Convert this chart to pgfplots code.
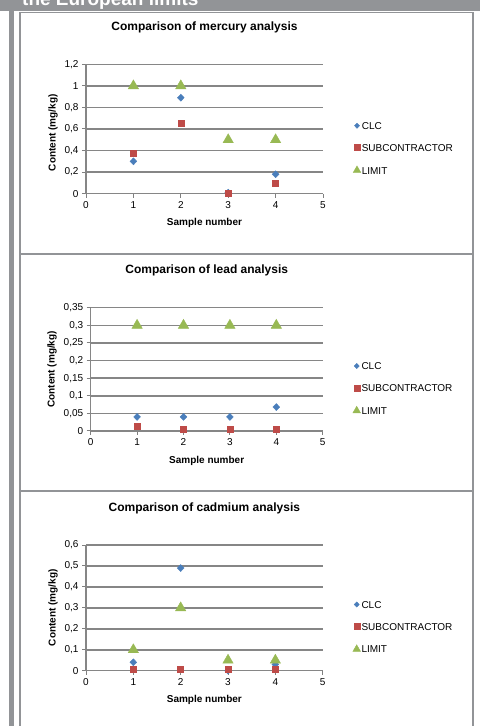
\documentclass[border=0pt]{standalone}
\usepackage{pgfplots}
\pgfplotsset{compat=1.18}
\usepackage{fontspec}
\setmainfont{Liberation Sans}

\definecolor{cclc}{RGB}{74,126,187}
\definecolor{csub}{RGB}{190,75,72}
\definecolor{clim}{RGB}{152,185,84}
\definecolor{cgrid}{RGB}{134,134,134}
\definecolor{cframe}{RGB}{146,148,151}

\pgfplotsset{
  panel/.style={
    scale only axis, anchor=south west,
    xmin=0, xmax=5, ymin=0, xtick={0,1,2,3,4,5},
    axis x line*=bottom, axis y line*=left,
    axis line style={cgrid, line width=1.5pt, -},
    ymajorgrids, grid style={cgrid, line width=1.5pt},
    tick style={cgrid, line width=1pt, black!50},
    tick align=outside, major tick length=4pt,
    font=\fontsize{10}{12}\selectfont,
    /pgf/number format/assume math mode=true,
    yticklabel style={/pgf/number format/.cd, fixed, precision=2, use comma},
    title style={font=\bfseries\fontsize{12}{14}\selectfont,
                 at={(0.5,1)}, anchor=center, yshift=31pt},
    xlabel={Sample number}, ylabel={Content (mg/kg)},
    xlabel style={font=\bfseries\fontsize{10}{12}\selectfont,
                  at={(0.5,0)}, anchor=center, yshift=-29.5pt},
    ylabel style={font=\bfseries\fontsize{10}{12}\selectfont, anchor=center},
    clip=false,
    legend style={at={(1,0.5)}, anchor=west, xshift=30pt, yshift=-19pt,
                  draw=none, fill=none, font=\fontsize{10}{12}\selectfont,
                  inner sep=0pt, row sep=14.5pt,
                  nodes={inner ysep=0pt, inner xsep=1pt, text height=7.5pt, text depth=0pt},
                  cells={anchor=west}},
    legend cell align=left,
  },
  clc/.style={only marks, mark=diamond*, mark size=3.5pt, color=cclc,
    mark options={xscale=1.3},
    legend image code/.code={\draw[##1, mark size=2.6pt] plot coordinates {(0,0)};}},
  sub/.style={only marks, mark=square*, mark size=3pt, color=csub,
    legend image code/.code={\draw[##1, mark size=3pt] plot coordinates {(0,0)};}},
  lim/.style={only marks, mark=triangle*, mark size=6pt, color=clim,
    legend image code/.code={\draw[##1, mark size=4.4pt] plot coordinates {(0,0)};}},
}

\begin{document}
\begin{tikzpicture}
\useasboundingbox (0,0) rectangle (480pt,726pt);
\begin{scope}
  \clip (0,0) rectangle (480pt,726pt);
  \fill[cframe] (0,714.5pt) rectangle (480pt,726pt);
  \fill[cframe] (9pt,0) rectangle (14pt,714.5pt);
  \draw[cframe, line width=1.8pt] (20pt,-5pt) -- (20pt,713.5pt) -- (473.3pt,713.5pt) -- (473.3pt,-5pt);
  \draw[cframe, line width=1.8pt] (20pt,472pt) -- (473.3pt,472pt);
  \draw[cframe, line width=1.8pt] (20pt,235pt) -- (473.3pt,235pt);
  \node[anchor=base west, inner sep=0pt, text=white,
        font=\bfseries\fontsize{19}{22}\selectfont] at (22pt,720pt) {the European limits};
\end{scope}

% mercury
\begin{axis}[panel, at={(86pt,532.3pt)}, width=237pt, height=129.4pt,
  ymax=1.2, ytick={0,0.2,0.4,0.6,0.8,1,1.2},
  title={Comparison of mercury analysis},
  ylabel style={at={(-0.139,0.47)}}]
  \addplot[clc] coordinates {(1,0.30) (2,0.89) (3,0.01) (4,0.18)};
  \addlegendentry{CLC}
  \addplot[sub] coordinates {(1,0.375) (2,0.655) (3,0.0) (4,0.10)};
  \addlegendentry{SUBCONTRACTOR}
  \addplot[lim] coordinates {(1,1) (2,1) (3,0.5) (4,0.5)};
  \addlegendentry{LIMIT}
\end{axis}

% lead
\begin{axis}[panel, at={(90.7pt,295pt)}, width=232pt, height=123.3pt,
  ymax=0.35, ytick={0,0.05,0.1,0.15,0.2,0.25,0.3,0.35},
  title={Comparison of lead analysis},
  ylabel style={at={(-0.167,0.5)}}]
  \addplot[clc] coordinates {(1,0.04) (2,0.04) (3,0.04) (4,0.068)};
  \addlegendentry{CLC}
  \addplot[sub] coordinates {(1,0.015) (2,0.005) (3,0.005) (4,0.005)};
  \addlegendentry{SUBCONTRACTOR}
  \addplot[lim] coordinates {(1,0.3) (2,0.3) (3,0.3) (4,0.3)};
  \addlegendentry{LIMIT}
\end{axis}

% cadmium
\begin{axis}[panel, at={(86pt,55.3pt)}, width=236.7pt, height=125.7pt,
  ymax=0.6, ytick={0,0.1,0.2,0.3,0.4,0.5,0.6},
  title={Comparison of cadmium analysis},
  ylabel style={at={(-0.139,0.5)}}]
  \addplot[clc] coordinates {(1,0.04) (2,0.49) (3,0.0) (4,0.03)};
  \addlegendentry{CLC}
  \addplot[sub] coordinates {(1,0.008) (2,0.008) (3,0.008) (4,0.008)};
  \addlegendentry{SUBCONTRACTOR}
  \addplot[lim] coordinates {(1,0.1) (2,0.3) (3,0.05) (4,0.05)};
  \addlegendentry{LIMIT}
\end{axis}
\end{tikzpicture}
\end{document}
